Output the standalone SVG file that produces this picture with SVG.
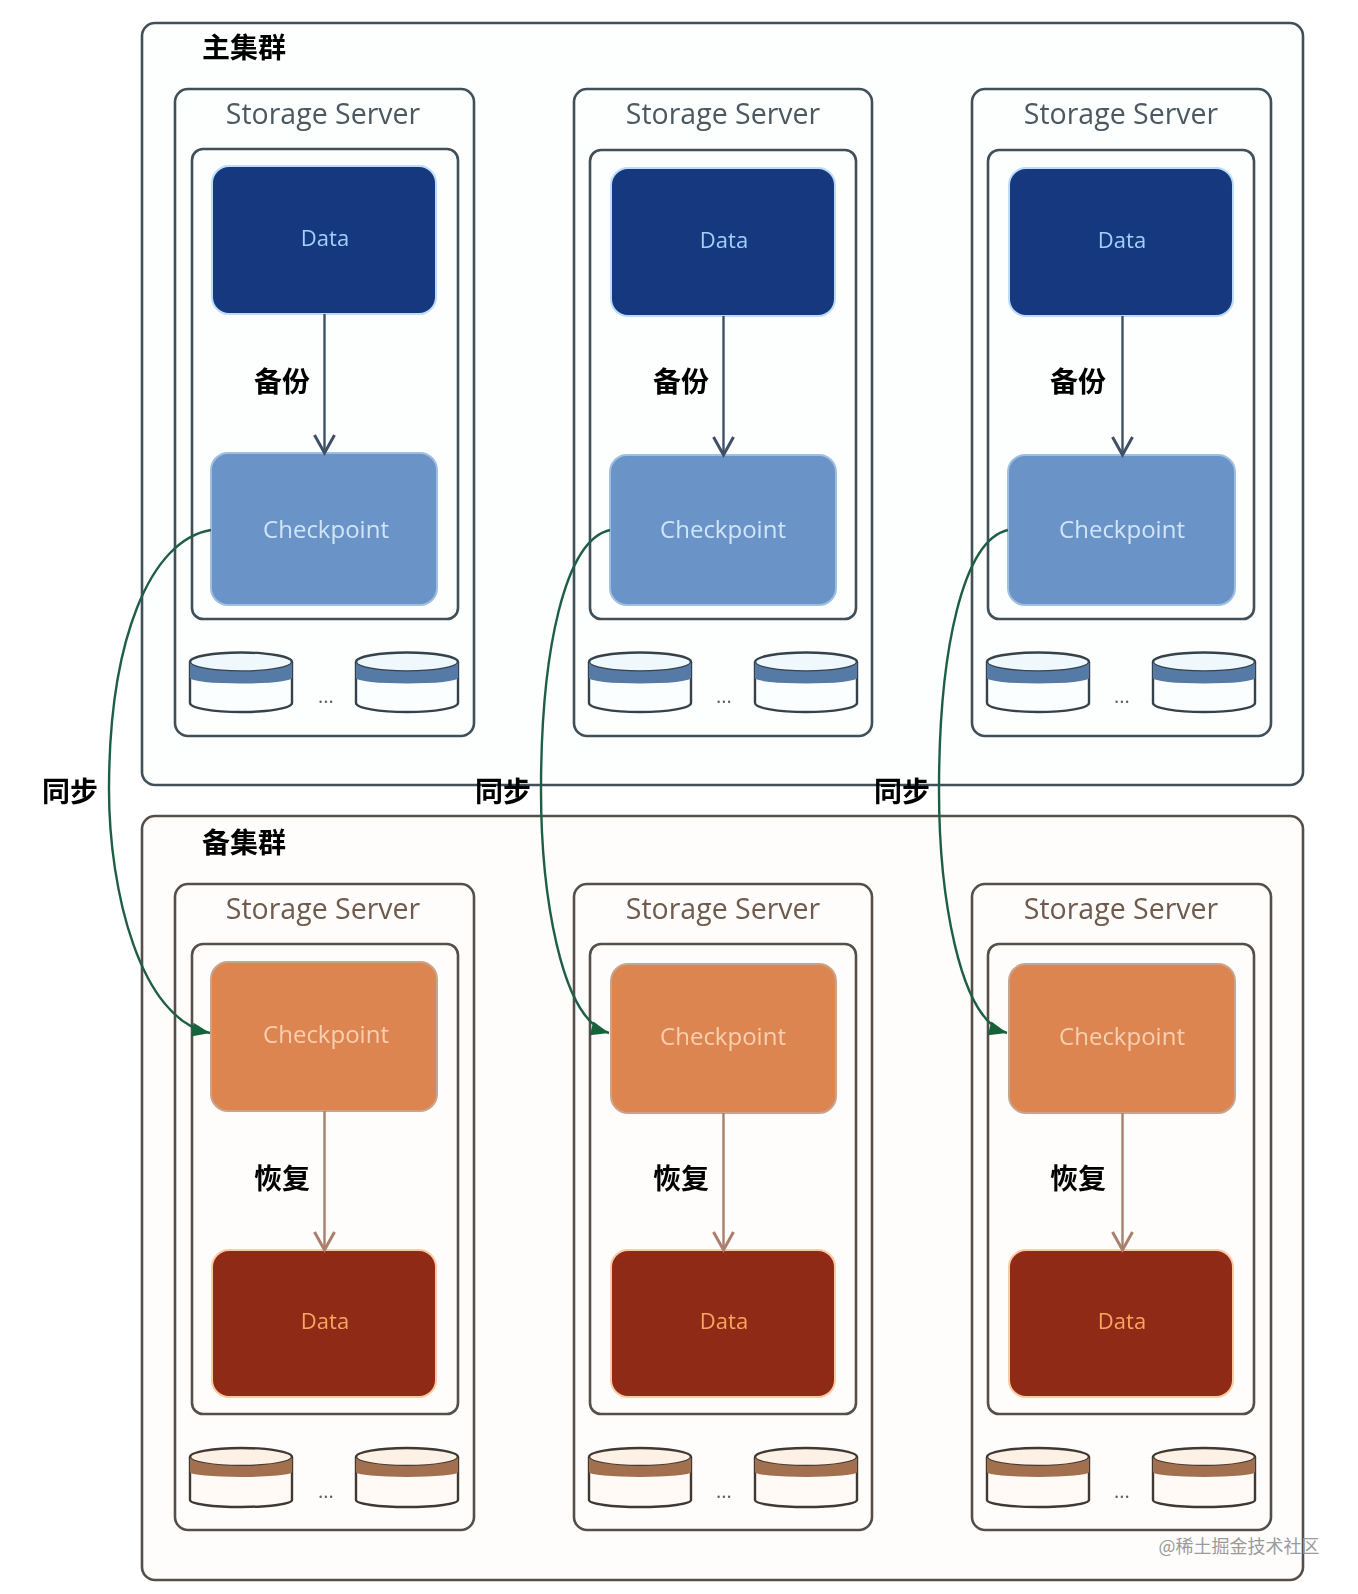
<svg xmlns="http://www.w3.org/2000/svg" width="1358" height="1594" viewBox="0 0 1358 1594">
<style>
text{text-anchor:middle;dominant-baseline:central}
.cluster,.server,.inner{stroke-width:2.6}
.top .cluster,.top .server,.top .inner{fill:none;stroke:#404f58}
.bot .cluster,.bot .server,.bot .inner{fill:none;stroke:#57504a}
.ss{font:28.5px "Open Sans","Liberation Sans",sans-serif}
.top .ss{fill:#4c5961}.bot .ss{fill:#6f5a4d}
.title,.lab{font:bold 28px "Noto Sans CJK SC","Liberation Sans",sans-serif;fill:#000000}
.d{font:22px "Open Sans","Liberation Sans",sans-serif}
.c{font:24px "Open Sans","Liberation Sans",sans-serif}
.dots{font:20px "Open Sans","Liberation Sans",sans-serif;fill:#5a6064}
.dblue{fill:#17397f;stroke:#bcdcfa;stroke-width:2}
.cblue{fill:#6a93c7;stroke:#9fbfdf;stroke-width:2}
.cor{fill:#dd8551;stroke:#c9a48c;stroke-width:2}
.dor{fill:#8f2b12;stroke:#fbc9a3;stroke-width:2}
.tdb{fill:#a3d0fb}.tcb{fill:#d0e6f8}.tco{fill:#f9cfb0}.tdo{fill:#f8a560}
.v{fill:none;stroke-width:2.4}
.arrowb{stroke:#3f5068}.arrowo{stroke:#a97f6e}
.sync{fill:none;stroke:#1f5f45;stroke-width:2.4}
.wm{font:18px "Noto Sans CJK SC","Liberation Sans",sans-serif;fill:#9a9a9a}
</style>
<defs>
<filter id="soft" filterUnits="userSpaceOnUse" x="0" y="0" width="1358" height="1594"><feGaussianBlur stdDeviation="0.75"/></filter>
<marker id="hb" markerUnits="userSpaceOnUse" markerWidth="26" markerHeight="26" refX="20" refY="13" orient="auto"><path d="M2 3 L20 13 L2 23" fill="none" stroke="#3f5068" stroke-width="3"/></marker>
<marker id="ho" markerUnits="userSpaceOnUse" markerWidth="26" markerHeight="26" refX="20" refY="13" orient="auto"><path d="M2 3 L20 13 L2 23" fill="none" stroke="#a97f6e" stroke-width="3"/></marker>
<marker id="hg" markerUnits="userSpaceOnUse" markerWidth="22" markerHeight="22" refX="19" refY="11" orient="auto"><path d="M1 4 L19 11 L1 18 Z" fill="#14633a"/></marker>
<g id="diskb"><path d="M0 10V51A51 9 0 0 0 102 51V10" fill="#fbfeff" stroke="#36424a" stroke-width="2.4"/><ellipse cx="51" cy="10" rx="51" ry="9.5" fill="#eef8fd" stroke="#36424a" stroke-width="2.4"/><path d="M0 10A51 9.5 0 0 0 102 10V26A51 5.5 0 0 1 0 26Z" fill="#557aa6"/></g>
<g id="disko"><path d="M0 10V53A51 7 0 0 0 102 53V10" fill="#fffaf5" stroke="#3f3833" stroke-width="2.4"/><ellipse cx="51" cy="10" rx="51" ry="9" fill="#fdf1e6" stroke="#3f3833" stroke-width="2.4"/><path d="M0 10A51 9 0 0 0 102 10V25A51 5 0 0 1 0 25Z" fill="#a2704f"/></g>
</defs>
<rect width="1358" height="1594" fill="#ffffff"/>
<g filter="url(#soft)">
<g id="primary" class="top">
<rect class="cluster" x="142" y="23" width="1161" height="762" rx="13" style="fill:#fdfefe"/>
<text class="title" x="244" y="46">主集群</text>
<g id="p1"><rect class="server" x="175" y="89" width="299" height="647" rx="13"/><text class="ss" x="323" y="113">Storage Server</text><rect class="inner" x="192" y="149" width="266" height="470" rx="11"/>
<g id="p1-data"><rect class="dblue" x="212" y="166" width="224" height="148" rx="17"/><text class="d tdb" x="325" y="237">Data</text></g>
<g id="p1-cp"><rect class="cblue" x="211" y="453" width="226" height="152" rx="17"/><text class="c tcb" x="326" y="528">Checkpoint</text></g>
<use id="p1-d1" href="#diskb" x="190" y="652"/><use id="p1-d2" href="#diskb" x="356" y="652"/><text class="dots" x="326" y="695">...</text></g>
<g id="p2"><rect class="server" x="574" y="89" width="298" height="647" rx="13"/><text class="ss" x="723" y="113">Storage Server</text><rect class="inner" x="590" y="150" width="266" height="469" rx="11"/>
<g id="p2-data"><rect class="dblue" x="611" y="168" width="224" height="148" rx="17"/><text class="d tdb" x="724" y="239">Data</text></g>
<g id="p2-cp"><rect class="cblue" x="610" y="455" width="226" height="150" rx="17"/><text class="c tcb" x="723" y="528">Checkpoint</text></g>
<use id="p2-d1" href="#diskb" x="589" y="652"/><use id="p2-d2" href="#diskb" x="755" y="652"/><text class="dots" x="724" y="695">...</text></g>
<g id="p3"><rect class="server" x="972" y="89" width="299" height="647" rx="13"/><text class="ss" x="1121" y="113">Storage Server</text><rect class="inner" x="988" y="150" width="266" height="469" rx="11"/>
<g id="p3-data"><rect class="dblue" x="1009" y="168" width="224" height="148" rx="17"/><text class="d tdb" x="1122" y="239">Data</text></g>
<g id="p3-cp"><rect class="cblue" x="1008" y="455" width="227" height="150" rx="17"/><text class="c tcb" x="1122" y="528">Checkpoint</text></g>
<use id="p3-d1" href="#diskb" x="987" y="652"/><use id="p3-d2" href="#diskb" x="1153" y="652"/><text class="dots" x="1122" y="695">...</text></g>
</g>
<g id="standby" class="bot">
<rect class="cluster" x="142" y="816" width="1161" height="764" rx="13" style="fill:#fffdfb"/>
<text class="title" x="244" y="841">备集群</text>
<g id="s1"><rect class="server" x="175" y="884" width="299" height="646" rx="13"/><text class="ss" x="323" y="908">Storage Server</text><rect class="inner" x="192" y="944" width="266" height="470" rx="11"/>
<g id="s1-cp"><rect class="cor" x="211" y="962" width="226" height="149" rx="17"/><text class="c tco" x="326" y="1033">Checkpoint</text></g>
<g id="s1-data"><rect class="dor" x="212" y="1250" width="224" height="147" rx="17"/><text class="d tdo" x="325" y="1320">Data</text></g>
<use id="s1-d1" href="#disko" x="190" y="1447"/><use id="s1-d2" href="#disko" x="356" y="1447"/><text class="dots" x="326" y="1490">...</text></g>
<g id="s2"><rect class="server" x="574" y="884" width="298" height="646" rx="13"/><text class="ss" x="723" y="908">Storage Server</text><rect class="inner" x="590" y="944" width="266" height="470" rx="11"/>
<g id="s2-cp"><rect class="cor" x="611" y="964" width="225" height="149" rx="17"/><text class="c tco" x="723" y="1035">Checkpoint</text></g>
<g id="s2-data"><rect class="dor" x="611" y="1250" width="224" height="147" rx="17"/><text class="d tdo" x="724" y="1320">Data</text></g>
<use id="s2-d1" href="#disko" x="589" y="1447"/><use id="s2-d2" href="#disko" x="755" y="1447"/><text class="dots" x="724" y="1490">...</text></g>
<g id="s3"><rect class="server" x="972" y="884" width="299" height="646" rx="13"/><text class="ss" x="1121" y="908">Storage Server</text><rect class="inner" x="988" y="944" width="266" height="470" rx="11"/>
<g id="s3-cp"><rect class="cor" x="1009" y="964" width="226" height="149" rx="17"/><text class="c tco" x="1122" y="1035">Checkpoint</text></g>
<g id="s3-data"><rect class="dor" x="1009" y="1250" width="224" height="147" rx="17"/><text class="d tdo" x="1122" y="1320">Data</text></g>
<use id="s3-d1" href="#disko" x="987" y="1447"/><use id="s3-d2" href="#disko" x="1153" y="1447"/><text class="dots" x="1122" y="1490">...</text></g>
</g>
<g id="connectors">
<path class="v arrowb" d="M324.5 314V453" marker-end="url(#hb)"/>
<path class="v arrowb" d="M723.5 316V455" marker-end="url(#hb)"/>
<path class="v arrowb" d="M1122.5 316V455" marker-end="url(#hb)"/>
<path class="v arrowo" d="M324.5 1111V1250" marker-end="url(#ho)"/>
<path class="v arrowo" d="M723.5 1113V1250" marker-end="url(#ho)"/>
<path class="v arrowo" d="M1122.5 1113V1250" marker-end="url(#ho)"/>
<path class="sync" d="M211 530C150 540 109 640 109 790C109 890 140 1020 210 1033" marker-end="url(#hg)"/>
<path class="sync" d="M610 530C565 540 541 650 541 790C541 890 560 1020 609 1033" marker-end="url(#hg)"/>
<path class="sync" d="M1008 530C963 540 939 650 939 790C939 890 958 1020 1007 1033" marker-end="url(#hg)"/>
<text class="lab" x="282" y="380">备份</text><text class="lab" x="681" y="380">备份</text><text class="lab" x="1078" y="380">备份</text>
<text class="lab" x="282" y="1177">恢复</text><text class="lab" x="681" y="1177">恢复</text><text class="lab" x="1078" y="1177">恢复</text>
<text class="lab" x="70" y="790">同步</text><text class="lab" x="503" y="790">同步</text><text class="lab" x="902" y="790">同步</text>
</g>
</g>
<text class="wm" x="1239" y="1545">@稀土掘金技术社区</text>
</svg>
